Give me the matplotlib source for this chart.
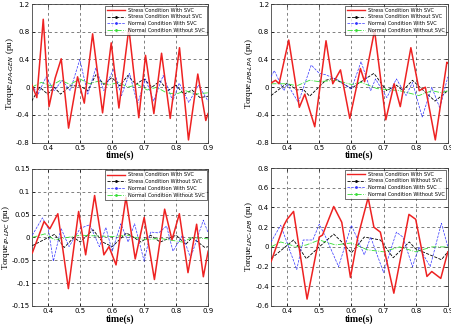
import numpy as np
from matplotlib import pyplot as plt
from matplotlib.lines import Line2D

# --- LPA-GEN (top left) ---
t_r1 = [0.35, 0.366, 0.386, 0.404, 0.423, 0.442, 0.465, 0.493, 0.514, 0.54, 0.571, 0.598, 0.622, 0.653, 0.684, 0.705, 0.731, 0.755, 0.782, 0.811, 0.839, 0.868, 0.893, 0.9]
y_r1 = [0.04, -0.15, 0.98, -0.28, 0.13, 0.41, -0.59, 0.15, -0.23, 0.77, -0.37, 0.64, -0.3, 0.85, -0.44, 0.46, -0.38, 0.49, -0.45, 0.57, -0.76, 0.19, -0.48, -0.38]
t_k1 = [0.35, 0.375, 0.40, 0.42, 0.44, 0.47, 0.50, 0.525, 0.55, 0.575, 0.60, 0.625, 0.65, 0.675, 0.70, 0.725, 0.75, 0.775, 0.80, 0.825, 0.85, 0.875, 0.9]
y_k1 = [-0.2, 0.0, -0.1, 0.0, -0.1, 0.02, 0.02, -0.05, 0.18, 0.04, 0.14, 0.02, 0.17, 0.04, 0.12, 0.0, 0.09, -0.05, 0.03, -0.1, -0.04, -0.15, -0.13]
t_b1 = [0.35, 0.37, 0.395, 0.42, 0.445, 0.47, 0.50, 0.525, 0.55, 0.575, 0.605, 0.63, 0.655, 0.68, 0.705, 0.73, 0.76, 0.79, 0.81, 0.84, 0.87, 0.9]
y_b1 = [0.03, -0.1, 0.15, -0.05, 0.1, -0.05, 0.4, -0.1, 0.28, -0.05, 0.26, -0.12, 0.2, -0.24, 0.12, -0.2, 0.17, -0.2, 0.06, -0.22, 0.03, -0.2]
t_g1 = [0.35, 0.38, 0.41, 0.44, 0.47, 0.50, 0.53, 0.56, 0.59, 0.62, 0.65, 0.68, 0.71, 0.74, 0.77, 0.80, 0.83, 0.86, 0.9]
y_g1 = [0.0, 0.07, 0.02, 0.1, 0.04, 0.12, 0.05, 0.09, 0.03, 0.07, 0.0, 0.04, -0.04, 0.0, -0.08, -0.1, -0.05, -0.1, -0.08]

# --- LPB-LPA (top right) ---
t_r2 = [0.35, 0.364, 0.375, 0.405, 0.438, 0.455, 0.486, 0.521, 0.542, 0.566, 0.595, 0.628, 0.641, 0.672, 0.707, 0.733, 0.752, 0.785, 0.811, 0.83, 0.861, 0.897, 0.9]
y_r2 = [0.06, 0.1, 0.05, 0.68, -0.29, -0.1, -0.57, 0.67, 0.05, 0.25, -0.45, 0.27, 0.08, 0.82, -0.47, 0.05, -0.28, 0.57, -0.05, 0.0, -0.76, 0.36, 0.35]
t_k2 = [0.35, 0.40, 0.43, 0.45, 0.47, 0.52, 0.545, 0.60, 0.62, 0.67, 0.71, 0.74, 0.76, 0.79, 0.82, 0.86, 0.9]
y_k2 = [-0.12, 0.06, -0.04, -0.03, -0.13, 0.1, 0.13, -0.02, 0.05, 0.2, -0.05, 0.03, -0.05, 0.1, -0.03, -0.2, -0.05]
t_b2 = [0.35, 0.36, 0.39, 0.40, 0.435, 0.475, 0.50, 0.52, 0.56, 0.60, 0.63, 0.66, 0.675, 0.71, 0.74, 0.77, 0.79, 0.82, 0.85, 0.875, 0.9]
y_b2 = [0.15, 0.24, -0.05, 0.05, -0.22, 0.32, 0.2, 0.18, 0.1, -0.03, 0.37, -0.05, 0.12, -0.15, 0.12, -0.12, 0.07, -0.43, 0.0, -0.3, 0.15]
t_g2 = [0.35, 0.40, 0.43, 0.47, 0.50, 0.55, 0.60, 0.63, 0.68, 0.75, 0.81, 0.85, 0.88, 0.9]
y_g2 = [0.05, 0.05, 0.02, 0.1, 0.08, 0.1, 0.04, 0.07, -0.02, -0.05, -0.12, -0.05, -0.08, -0.05]

# --- IP-LPC (bottom left) ---
t_r3 = [0.35, 0.387, 0.405, 0.43, 0.463, 0.495, 0.517, 0.545, 0.574, 0.59, 0.612, 0.643, 0.672, 0.70, 0.732, 0.764, 0.787, 0.81, 0.837, 0.864, 0.885, 0.9]
y_r3 = [-0.034, 0.035, 0.019, 0.052, -0.112, 0.057, -0.038, 0.092, -0.038, -0.02, -0.06, 0.088, -0.047, 0.044, -0.092, 0.062, -0.005, 0.052, -0.077, 0.029, -0.086, -0.03]
t_k3 = [0.35, 0.40, 0.42, 0.45, 0.48, 0.50, 0.54, 0.57, 0.60, 0.645, 0.69, 0.72, 0.75, 0.80, 0.83, 0.85, 0.89, 0.9]
y_k3 = [-0.018, 0.0, 0.007, -0.022, 0.0, -0.01, 0.017, -0.01, -0.02, 0.01, -0.01, 0.005, -0.01, 0.005, -0.015, 0.0, -0.022, -0.02]
t_b3 = [0.35, 0.382, 0.40, 0.416, 0.44, 0.465, 0.50, 0.53, 0.56, 0.58, 0.60, 0.627, 0.65, 0.67, 0.70, 0.72, 0.745, 0.77, 0.79, 0.82, 0.845, 0.885, 0.9]
y_b3 = [0.005, 0.043, 0.02, -0.052, 0.02, -0.02, 0.02, 0.028, -0.02, 0.022, -0.03, 0.03, -0.01, 0.03, -0.052, 0.012, 0.01, 0.025, -0.03, 0.005, -0.045, 0.038, 0.01]
t_g3 = [0.35, 0.39, 0.42, 0.50, 0.60, 0.65, 0.70, 0.75, 0.82, 0.85, 0.9]
y_g3 = [0.0, 0.008, -0.005, 0.005, 0.002, 0.005, -0.005, -0.002, -0.01, 0.0, -0.003]

# --- LPC-LPB (bottom right) ---
t_r4 = [0.35, 0.39, 0.40, 0.42, 0.462, 0.50, 0.51, 0.545, 0.57, 0.597, 0.62, 0.652, 0.67, 0.69, 0.732, 0.779, 0.80, 0.835, 0.85, 0.878, 0.9]
y_r4 = [-0.15, 0.22, 0.28, 0.36, -0.53, 0.1, 0.12, 0.41, 0.25, -0.31, 0.1, 0.5, 0.2, 0.15, -0.47, 0.33, 0.28, -0.3, -0.25, -0.32, -0.05]
t_k4 = [0.35, 0.42, 0.46, 0.50, 0.545, 0.57, 0.60, 0.64, 0.69, 0.73, 0.78, 0.80, 0.88, 0.9]
y_k4 = [-0.12, 0.07, -0.12, 0.0, 0.13, 0.05, -0.06, 0.1, 0.07, -0.11, 0.05, -0.02, -0.13, -0.05]
t_b4 = [0.35, 0.38, 0.43, 0.45, 0.48, 0.50, 0.52, 0.56, 0.60, 0.64, 0.66, 0.70, 0.74, 0.76, 0.79, 0.81, 0.845, 0.88, 0.9]
y_b4 = [0.05, 0.22, -0.23, 0.07, 0.07, 0.23, 0.1, -0.2, 0.22, -0.08, 0.1, -0.26, 0.15, 0.1, -0.2, 0.0, -0.2, 0.24, 0.0]
t_g4 = [0.35, 0.38, 0.43, 0.46, 0.50, 0.55, 0.60, 0.65, 0.70, 0.75, 0.80, 0.85, 0.9]
y_g4 = [0.0, 0.05, 0.0, 0.02, 0.07, 0.02, 0.04, -0.03, -0.05, 0.0, -0.05, 0.0, 0.0]

labels = ['Stress Condition With SVC', 'Stress Condition Without SVC',
          'Normal Condition With SVC', 'Normal Condition Without SVC']
ylabels = [r'Torque$_{LPA\text{-}GEN}$ (pu)', r'Torque$_{LPB\text{-}LPA}$ (pu)',
           r'Torque$_{IP\text{-}LPC}$ (pu)', r'Torque$_{LPC\text{-}LPB}$ (pu)']
ylims = [(-0.8, 1.2), (-0.8, 1.2), (-0.15, 0.15), (-0.6, 0.8)]
yticks = [np.arange(-0.8, 1.21, 0.4), np.arange(-0.8, 1.21, 0.4),
          np.arange(-0.15, 0.151, 0.05), np.arange(-0.6, 0.81, 0.2)]
ytl = [['-0.8', '-0.4', '0', '0.4', '0.8', '1.2'], ['-0.8', '-0.4', '0', '0.4', '0.8', '1.2'],
       ['-0.15', '-0.1', '-0.05', '0', '0.05', '0.1', '0.15'],
       ['-0.6', '-0.4', '-0.2', '0', '0.2', '0.4', '0.6', '0.8']]
data = [(t_r1, y_r1, t_k1, y_k1, t_b1, y_b1, t_g1, y_g1),
        (t_r2, y_r2, t_k2, y_k2, t_b2, y_b2, t_g2, y_g2),
        (t_r3, y_r3, t_k3, y_k3, t_b3, y_b3, t_g3, y_g3),
        (t_r4, y_r4, t_k4, y_k4, t_b4, y_b4, t_g4, y_g4)]
positions = [[0.0703, 0.5596, 0.391, 0.428], [0.601, 0.5596, 0.392, 0.428],
             [0.0715, 0.0556, 0.390, 0.4228], [0.601, 0.0556, 0.392, 0.4256]]

green = '#33dd33'
fig = plt.figure(figsize=(4.51, 3.24), dpi=100)
for i in range(4):
    ax = fig.add_axes(positions[i])
    tr, yr, tk, yk, tb, yb, tg, yg = data[i]
    ax.plot(tr, yr, '-', color='#ee2222', lw=1.1, zorder=4)
    ax.plot(tk, yk, '--', color='k', lw=0.6, zorder=3)
    ax.plot(tb, yb, '--', color='#3333ff', lw=0.5, zorder=3)
    ax.plot(tg, yg, '-.', color=green, lw=0.6, zorder=3)
    ax.set_xlim(0.35, 0.9)
    ax.set_ylim(*ylims[i])
    ax.set_xticks([0.4, 0.5, 0.6, 0.7, 0.8, 0.9])
    ax.set_xticklabels(['0.4', '0.5', '0.6', '0.7', '0.8', '0.9'])
    ax.set_yticks(yticks[i])
    ax.set_yticklabels(ytl[i])
    ax.tick_params(labelsize=5, direction='in', length=2, width=0.5, top=True, right=True, pad=1.5)
    ax.grid(True, color='k', ls=(0, (4, 4)), lw=0.5, alpha=0.7)
    for s in ax.spines.values():
        s.set_linewidth(0.6)
        s.set_color('#444444')
    ax.set_xlabel('time(s)', family='Liberation Serif', fontsize=7, fontweight='bold', labelpad=0)
    ax.set_ylabel(ylabels[i], family='Liberation Serif', fontsize=6.5, labelpad=0)
    handles = [Line2D([], [], color='#ee2222', ls='-', lw=1.0),
               Line2D([], [], color='k', ls='--', lw=0.6, marker='.', ms=2),
               Line2D([], [], color='#3333ff', ls='--', lw=0.5, marker='.', ms=2),
               Line2D([], [], color=green, ls='-.', lw=0.6, marker='.', ms=2)]
    leg = ax.legend(handles, labels, loc='upper right', fontsize=3.6, handlelength=3.5,
                    frameon=True, fancybox=False, borderaxespad=0.3, labelspacing=0.35,
                    handletextpad=0.6, borderpad=0.4)
    leg.get_frame().set_edgecolor('k')
    leg.get_frame().set_linewidth(0.5)
    leg.set_zorder(10)

plt.savefig('out.png', dpi=100)
